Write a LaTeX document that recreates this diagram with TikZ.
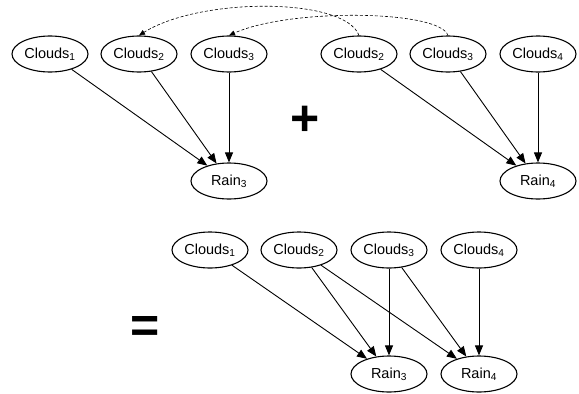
\documentclass[tikz,border=0pt]{standalone}
\usepackage{fontspec}
\setmainfont{Liberation Sans}
\usetikzlibrary{shapes.geometric,arrows.meta}

\newcommand{\cl}[1]{Clouds\textsubscript{#1}}
\newcommand{\rn}[1]{Rain\textsubscript{#1}}

\begin{document}
\begin{tikzpicture}[x=1pt,y=-1pt,
    var/.style={ellipse,draw,line width=1.1pt,minimum width=76pt,minimum height=36pt,
                inner sep=0pt,font=\fontsize{14.5}{17}\selectfont},
    op/.style={font=\fontsize{50}{50}\selectfont\bfseries,inner sep=0pt},
    >={Triangle[length=10pt,width=8pt]},
    edge/.style={->,line width=0.9pt},
    slice/.style={->,line width=0.6pt,dash pattern=on 3pt off 2pt,
                  >={Triangle[length=6pt,width=5pt]}}]
  \useasboundingbox (0,0) rectangle (579,394);

  \path
  (50,54)   node[var](c1a) {\cl{1}}
  (139,54)  node[var](c2a) {\cl{2}}
  (229,54)  node[var](c3a) {\cl{3}}
  (229,181) node[var](r3a) {\rn{3}}

  (359,54)  node[var](c2b) {\cl{2}}
  (448,54)  node[var](c3b) {\cl{3}}
  (538,54)  node[var](c4b) {\cl{4}}
  (538,181) node[var](r4b) {\rn{4}}

  (210,250) node[var](c1c) {\cl{1}}
  (299,250) node[var](c2c) {\cl{2}}
  (389,250) node[var](c3c) {\cl{3}}
  (479,250) node[var](c4c) {\cl{4}}
  (389,374) node[var](r3c) {\rn{3}}
  (479,374) node[var](r4c) {\rn{4}}

  (305,121) node[op](plus)   {+}
  (145,329) node[op](equals) {=}
  ;

  \draw[edge] (c1a) -- (r3a);
  \draw[edge] (c2a) -- (r3a);
  \draw[edge] (c3a) -- (r3a);

  \draw[edge] (c2b) -- (r4b);
  \draw[edge] (c3b) -- (r4b);
  \draw[edge] (c4b) -- (r4b);

  \draw[edge] (c1c) -- (r3c);
  \draw[edge] (c2c) -- (r3c);
  \draw[edge] (c2c) -- (r4c);
  \draw[edge] (c3c) -- (r3c);
  \draw[edge] (c3c) -- (r4c);
  \draw[edge] (c4c) -- (r4c);

  \draw[slice] (c2b.north) .. controls (345,-3) and (200,-3) .. (c2a.north);
  \draw[slice] (c3b.north) .. controls (440,10) and (290,8) .. (c3a.north);

\end{tikzpicture}
\end{document}
